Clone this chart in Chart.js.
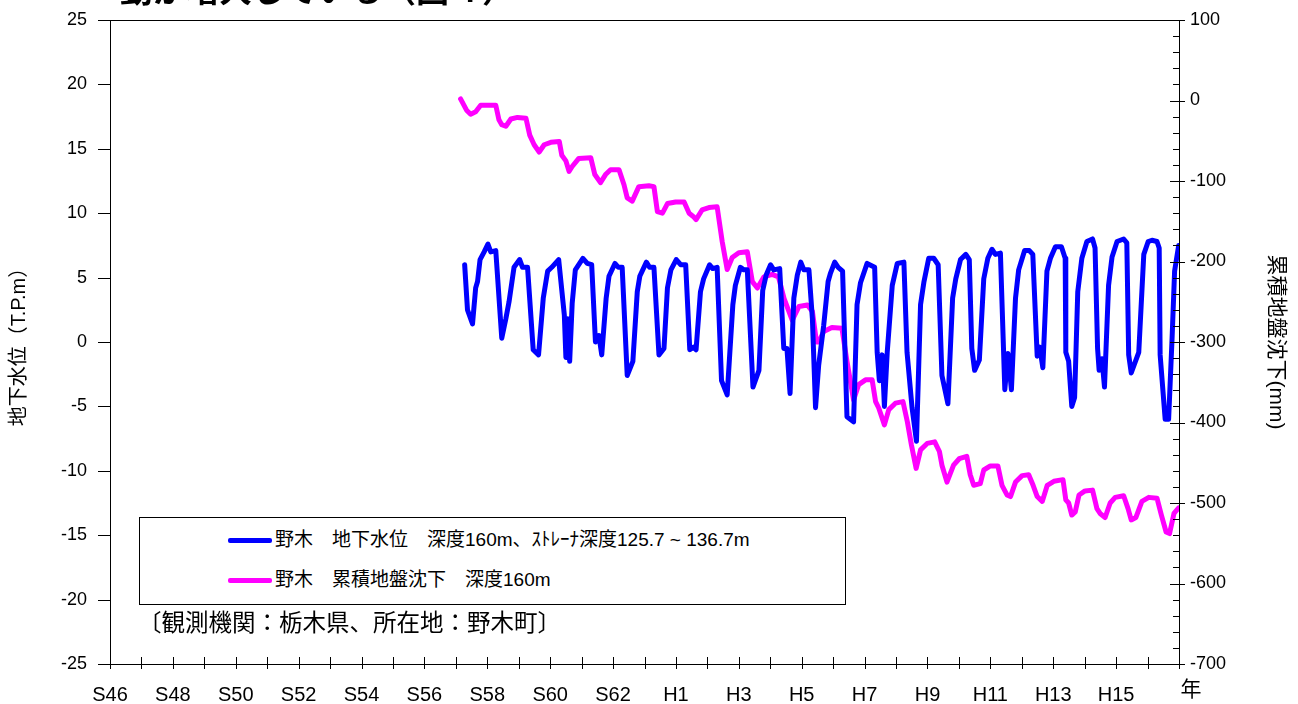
<!DOCTYPE html>
<html>
<head>
<meta charset="utf-8">
<script src="https://cdn.jsdelivr.net/npm/chart.js@4"></script>
<style>
html, body { margin: 0; padding: 0; background: #fff; }
#wrap { position: relative; width: 1298px; height: 704px; overflow: hidden; }
#myChart { position: absolute; left: 0; top: 0; }
#headline { position: absolute; left: 120px; top: -36px; font: bold 33px "Noto Sans CJK JP"; white-space: nowrap; }
#legend { position: absolute; left: 139px; top: 517px; width: 707px; height: 88px; box-sizing: border-box;
          border: 1px solid #000; background: #fff; font: 19px "Liberation Sans", "Noto Sans CJK JP"; }
#legend .row { position: absolute; left: 88px; height: 24px; line-height: 24px; white-space: nowrap; }
#legend .swatch { display: inline-block; width: 44px; height: 5px; vertical-align: middle; margin-right: 3px; border-radius: 2px; }
#note { position: absolute; left: 138px; top: 604px; font: 23.5px "Liberation Sans", "Noto Sans CJK JP"; white-space: nowrap; }
</style>
</head>
<body>
<div id="wrap">
  <canvas id="myChart" width="1298" height="704"></canvas>
  <div id="headline">動が増大している（図４）</div>
  <div id="legend"></div>
  <div id="note">〔観測機関：栃木県、所在地：野木町〕</div>
</div>
<script>
// 地下水位 (T.P.m)
var levelYears = [
  1982.28, 1982.37, 1982.53, 1982.63, 1982.69, 1982.77, 1982.90, 1983.02, 1983.11, 1983.27,
  1983.46, 1983.59, 1983.69, 1983.85, 1984.03, 1984.12, 1984.28, 1984.46, 1984.63, 1984.78,
  1984.92, 1985.05, 1985.27, 1985.45, 1985.50, 1985.56, 1985.62, 1985.70, 1985.80, 1986.04,
  1986.18, 1986.32, 1986.44, 1986.55, 1986.64, 1986.78, 1986.87, 1987.06, 1987.17, 1987.29,
  1987.45, 1987.63, 1987.77, 1987.85, 1988.06, 1988.16, 1988.30, 1988.46, 1988.62, 1988.73,
  1988.84, 1989.01, 1989.15, 1989.31, 1989.44, 1989.56, 1989.64, 1989.78, 1989.88, 1990.07,
  1990.17, 1990.31, 1990.45, 1990.63, 1990.81, 1990.89, 1991.05, 1991.16, 1991.27, 1991.45,
  1991.64, 1991.76, 1991.87, 1992.01, 1992.11, 1992.30, 1992.43, 1992.53, 1992.63, 1992.75,
  1992.86, 1992.97, 1993.07, 1993.23, 1993.34, 1993.44, 1993.54, 1993.70, 1993.84, 1993.91,
  1994.05, 1994.16, 1994.30, 1994.44, 1994.65, 1994.76, 1994.87, 1995.08, 1995.32, 1995.40,
  1995.47, 1995.56, 1995.63, 1995.72, 1995.88, 1996.04, 1996.25, 1996.35, 1996.51, 1996.65,
  1996.78, 1996.89, 1997.04, 1997.20, 1997.34, 1997.46, 1997.65, 1997.80, 1997.90, 1998.05,
  1998.22, 1998.33, 1998.41, 1998.50, 1998.65, 1998.79, 1998.92, 1999.05, 1999.16, 1999.32,
  1999.46, 1999.56, 1999.67, 1999.80, 1999.90, 2000.09, 2000.24, 2000.35, 2000.49, 2000.57,
  2000.67, 2000.80, 2000.91, 2001.07, 2001.26, 2001.38, 2001.40, 2001.49, 2001.59, 2001.68,
  2001.78, 2001.91, 2002.07, 2002.25, 2002.33, 2002.41, 2002.46, 2002.55, 2002.63, 2002.76,
  2002.87, 2003.03, 2003.24, 2003.34, 2003.40, 2003.48, 2003.72, 2003.88, 2004.02, 2004.14,
  2004.30, 2004.37, 2004.40, 2004.56, 2004.67, 2004.78, 2004.86, 2004.99
];
var levelValues = [
  6.0, 2.5, 1.4, 4.2, 4.7, 6.4, 7.0, 7.6, 7.0, 7.1,
  0.3, 1.8, 3.1, 5.8, 6.4, 5.8, 5.8, -0.6, -1.0, 3.4,
  5.5, 5.8, 6.4, 2.1, -1.2, 1.8, -1.5, 3.0, 5.6, 6.5,
  6.1, 6.0, 0.0, 0.5, -1.0, 3.4, 5.1, 6.1, 5.8, 5.8,
  -2.6, -1.5, 3.9, 5.1, 6.2, 5.8, 5.8, -1.0, -0.5, 4.2,
  5.6, 6.4, 6.0, 6.0, -0.6, -0.4, -0.6, 3.9, 4.9, 6.0,
  5.7, 5.8, -3.0, -4.1, 2.9, 4.4, 5.8, 5.6, 5.6, -3.5,
  -2.2, 4.0, 5.2, 6.0, 5.6, 5.7, -0.5, -0.5, -4.0, 3.4,
  5.2, 6.2, 5.6, 5.6, 1.8, -5.1, -1.8, 1.3, 4.7, 5.3,
  6.2, 5.8, 5.5, -5.8, -6.2, 2.9, 4.6, 6.1, 5.8, -0.8,
  -3.0, -1.0, -5.0, -0.8, 4.4, 6.1, 6.2, -0.8, -5.1, -7.7,
  2.9, 4.7, 6.5, 6.5, 6.0, -2.6, -4.8, 3.4, 4.9, 6.4,
  6.8, 6.4, -0.5, -2.2, -1.4, 4.9, 6.5, 7.2, 6.8, 6.9,
  -3.7, -0.9, -3.7, 3.4, 5.6, 7.1, 7.1, 6.8, -1.1, -0.4,
  -2.0, 5.5, 6.5, 7.4, 7.4, 6.5, -0.8, -1.5, -5.0, -4.3,
  3.9, 6.5, 7.8, 8.0, 7.3, -0.5, -2.2, -1.3, -3.5, 4.4,
  6.6, 7.8, 8.0, 7.7, -1.0, -2.4, -0.8, 6.8, 7.8, 7.9,
  7.8, 7.3, -1.0, -6.0, -6.0, 0.3, 5.5, 7.5
];

// 累積地盤沈下 (mm)
var sinkYears = [
  1982.15, 1982.34, 1982.47, 1982.63, 1982.79, 1983.06, 1983.27, 1983.37, 1983.46, 1983.59,
  1983.75, 1983.96, 1984.23, 1984.35, 1984.49, 1984.65, 1984.81, 1985.02, 1985.29, 1985.37,
  1985.50, 1985.60, 1985.70, 1985.91, 1986.29, 1986.42, 1986.60, 1986.76, 1986.92, 1987.19,
  1987.35, 1987.45, 1987.61, 1987.82, 1988.14, 1988.30, 1988.41, 1988.57, 1988.73, 1988.99,
  1989.26, 1989.42, 1989.55, 1989.64, 1989.83, 1990.05, 1990.31, 1990.47, 1990.63, 1990.79,
  1991.00, 1991.27, 1991.43, 1991.59, 1991.80, 1992.06, 1992.26, 1992.44, 1992.70, 1992.91,
  1993.18, 1993.34, 1993.47, 1993.54, 1993.70, 1993.96, 1994.28, 1994.44, 1994.65, 1994.81,
  1995.03, 1995.24, 1995.35, 1995.45, 1995.63, 1995.77, 1995.98, 1996.22, 1996.36, 1996.49,
  1996.64, 1996.78, 1996.99, 1997.23, 1997.38, 1997.46, 1997.62, 1997.83, 1998.01, 1998.25,
  1998.36, 1998.47, 1998.68, 1998.79, 1999.00, 1999.24, 1999.37, 1999.53, 1999.64, 1999.80,
  2000.01, 2000.22, 2000.36, 2000.49, 2000.65, 2000.81, 2001.02, 2001.31, 2001.40, 2001.49,
  2001.59, 2001.70, 2001.82, 2002.01, 2002.25, 2002.39, 2002.49, 2002.65, 2002.81, 2002.97,
  2003.24, 2003.38, 2003.48, 2003.63, 2003.82, 2004.04, 2004.30, 2004.44, 2004.59, 2004.70,
  2004.84, 2004.99
];
var sinkValues = [
  2, -12, -17, -14, -6, -6, -6, -24, -30, -32,
  -23, -21, -22, -43, -55, -64, -55, -52, -51, -68,
  -75, -88, -82, -72, -71, -92, -102, -92, -86, -86,
  -105, -121, -125, -107, -106, -107, -138, -140, -128, -126,
  -126, -140, -144, -148, -136, -133, -132, -175, -210, -195,
  -189, -188, -225, -233, -219, -216, -219, -246, -273, -256,
  -254, -262, -300, -300, -287, -282, -283, -324, -372, -353,
  -347, -347, -374, -382, -403, -384, -376, -374, -399, -428,
  -457, -434, -426, -424, -436, -453, -474, -453, -445, -442,
  -465, -478, -476, -459, -454, -454, -478, -490, -492, -474,
  -466, -465, -478, -492, -498, -478, -473, -471, -496, -500,
  -515, -511, -490, -485, -484, -507, -513, -518, -500, -493,
  -491, -507, -521, -518, -498, -493, -494, -515, -536, -538,
  -513, -506
];

var firstYear = 1971;
var lastYear = 2005;
var xTickLabels = ['S46', 'S48', 'S50', 'S52', 'S54', 'S56', 'S58', 'S60', 'S62',
                   'H1', 'H3', 'H5', 'H7', 'H9', 'H11', 'H13', 'H15'];

var fontFamily = '"Liberation Sans", "Noto Sans CJK JP", sans-serif';

function toPoints(xs, ys) {
  var pts = [];
  for (var i = 0; i < xs.length; i++) pts.push({x: xs[i], y: ys[i]});
  return pts;
}

// box round the plot, tick marks and the 年 label
var frame = {
  id: 'frame',
  afterDraw: function(chart) {
    var c = chart.ctx, a = chart.chartArea;
    var sx = chart.scales.x, sl = chart.scales.y, sr = chart.scales.y2;
    c.save();
    c.strokeStyle = '#000';
    c.lineWidth = 1;
    c.strokeRect(Math.round(a.left) + 0.5, Math.round(a.top) + 0.5,
                 Math.round(a.right - a.left), Math.round(a.bottom - a.top));
    c.beginPath();
    var v, p;
    for (v = -25; v <= 25; v += 5) {
      p = Math.round(sl.getPixelForValue(v)) + 0.5;
      c.moveTo(a.left - 12, p); c.lineTo(a.left, p);
    }
    for (v = -700; v <= 100; v += 20) {
      p = Math.round(sr.getPixelForValue(v)) + 0.5;
      if (v % 100 === 0) { c.moveTo(a.right - 9, p); c.lineTo(a.right + 6, p); }
      else { c.moveTo(a.right - 6, p); c.lineTo(a.right, p); }
    }
    for (v = firstYear; v <= lastYear; v++) {
      p = Math.round(sx.getPixelForValue(v)) + 0.5;
      c.moveTo(p, a.bottom - 7); c.lineTo(p, a.bottom + 5);
    }
    c.stroke();
    c.fillStyle = '#000';
    c.font = '21px ' + fontFamily;
    c.textAlign = 'center';
    c.textBaseline = 'middle';
    c.fillText('年', a.right + 12, 690);
    c.restore();
  }
};

var ctx = document.getElementById('myChart');
var myChart = new Chart(ctx, {
  type: 'line',
  data: {
    datasets: [{
      label: '野木　地下水位　深度160m、ｽﾄﾚｰﾅ深度125.7 ~ 136.7m',
      data: toPoints(levelYears, levelValues),
      borderColor: '#0000ff',
      borderWidth: 5,
      borderJoinStyle: 'round',
      borderCapStyle: 'round',
      pointRadius: 0,
      tension: 0,
      yAxisID: 'y'
    }, {
      label: '野木　累積地盤沈下　深度160m',
      data: toPoints(sinkYears, sinkValues),
      borderColor: '#ff00ff',
      borderWidth: 5,
      borderJoinStyle: 'round',
      borderCapStyle: 'round',
      pointRadius: 0,
      tension: 0,
      yAxisID: 'y2'
    }]
  },
  options: {
    responsive: false,
    animation: false,
    layout: { padding: { top: 20, left: 0, right: 0, bottom: 0 }, autoPadding: false },
    plugins: { legend: { display: false }, tooltip: { enabled: false } },
    scales: {
      x: {
        type: 'linear', min: firstYear, max: lastYear,
        grid: { display: false, drawTicks: false }, border: { display: false },
        ticks: {
          stepSize: 1, autoSkip: false, maxRotation: 0, padding: 19,
          color: '#000', font: { family: fontFamily, size: 20 },
          callback: function(v) {
            var k = v - firstYear;
            return (k % 2 === 0 && xTickLabels[k / 2]) ? xTickLabels[k / 2] : '';
          }
        },
        afterFit: function(s) { s.height = 40; s.paddingLeft = 0; s.paddingRight = 0; }
      },
      y: {
        position: 'left', min: -25, max: 25,
        grid: { display: false, drawTicks: false }, border: { display: false },
        ticks: { stepSize: 5, padding: 23, color: '#000', font: { family: fontFamily, size: 18 } },
        title: { display: true, text: '地下水位（T.P.m）', color: '#000', padding: 7,
                 font: { family: fontFamily, size: 20 } },
        afterFit: function(s) { s.width = 110; s.paddingTop = 0; s.paddingBottom = 0; }
      },
      y2: {
        position: 'right', min: -700, max: 100,
        grid: { display: false, drawTicks: false }, border: { display: false },
        ticks: { stepSize: 100, padding: 11, color: '#000', font: { family: fontFamily, size: 18 } },
        title: { display: true, text: '累積地盤沈下(mm)', color: '#000', padding: 10,
                 font: { family: fontFamily, size: 21 } },
        afterFit: function(s) { s.width = 119; s.paddingTop = 0; s.paddingBottom = 0; }
      }
    }
  },
  plugins: [frame]
});

// legend box built from the datasets
var legend = document.getElementById('legend');
myChart.data.datasets.forEach(function(ds, i) {
  var row = document.createElement('div');
  row.className = 'row';
  row.style.top = (10 + i * 40) + 'px';
  var sw = document.createElement('span');
  sw.className = 'swatch';
  sw.style.background = ds.borderColor;
  row.appendChild(sw);
  row.appendChild(document.createTextNode(ds.label));
  legend.appendChild(row);
});
</script>
</body>
</html>
